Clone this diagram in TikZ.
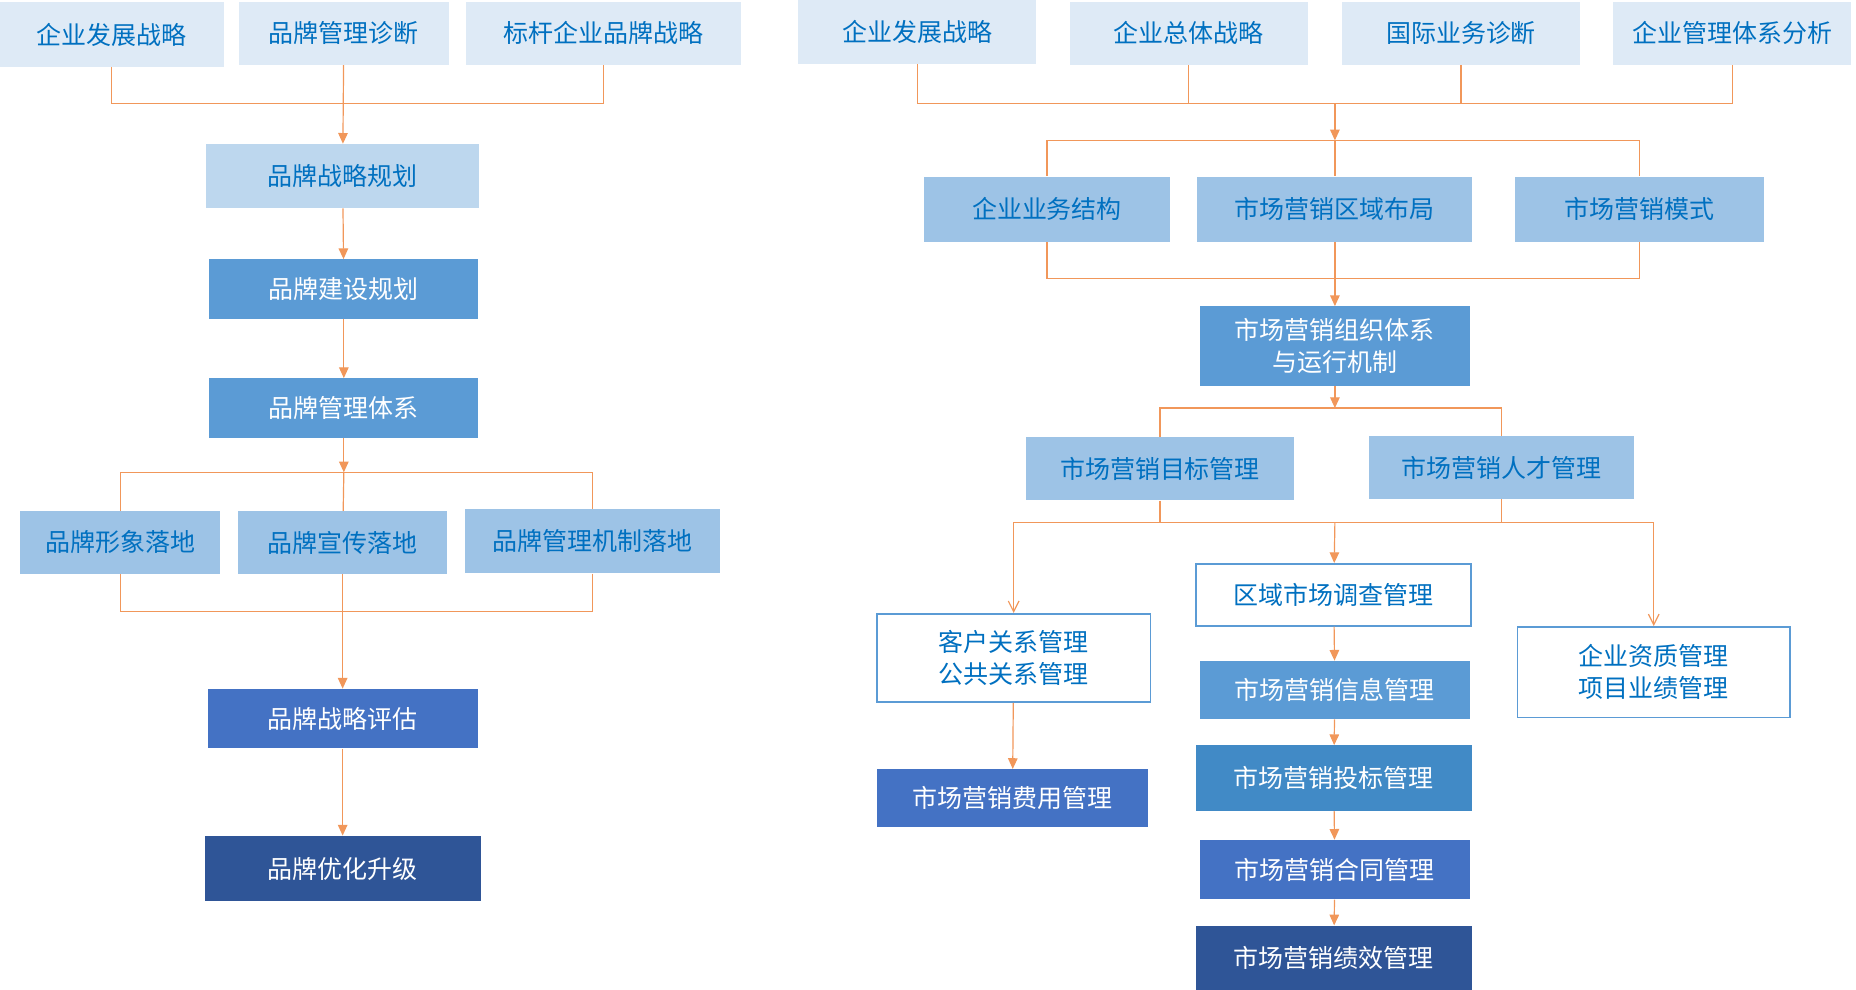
\documentclass[tikz,border=0pt]{standalone}
\usepackage{fontspec}
\setmainfont{Noto Sans CJK SC}
\usetikzlibrary{arrows.meta}
\definecolor{pale}{HTML}{DEEAF6}
\definecolor{lite}{HTML}{BDD7EE}
\definecolor{mid}{HTML}{9DC3E6}
\definecolor{main}{HTML}{5B9BD5}
\definecolor{bid}{HTML}{418AC6}
\definecolor{deep}{HTML}{4472C4}
\definecolor{navy}{HTML}{2F5597}
\definecolor{ink}{HTML}{0070C0}
\definecolor{org}{HTML}{ED7D31}
\tikzset{
    BX/.style ={rectangle, inner sep=0pt, font=\fontsize{21}{27}\selectfont, align=center},
    BX1/.style ={BX, fill=pale, text=ink},
    BX2/.style ={BX, fill=lite, text=ink},
    BX3/.style ={BX, fill=mid, text=ink},
    BX4/.style ={BX, fill=#1, text=white},
    BX5/.style ={BX, fill=white, draw=main, line width=1.5pt, text=ink},
    LN/.style ={draw=org!80, line width=1pt},
    AR/.style ={LN, -{Triangle[length=9pt,width=8pt]}},
    AO/.style ={LN, -{Straight Barb[length=9pt,width=9pt]}}}
\begin{document}
\begin{tikzpicture}[x=1pt,y=-1pt]
        \useasboundingbox (0,0) rectangle (1560,832);
        % left
        \node[BX1,minimum width=189,minimum height=54] (a1) at(94,29){企业发展战略};
        \node[BX1,minimum width=177,minimum height=53] (a2) at(289,28){品牌管理诊断};
        \node[BX1,minimum width=231,minimum height=53] (a3) at(507,28){标杆企业品牌战略};
        \node[BX2,minimum width=230,minimum height=54] (b) at(288,148){品牌战略规划};
        \node[BX4=main,minimum width=226,minimum height=50] (c) at(289,243){品牌建设规划};
        \node[BX4=main,minimum width=226,minimum height=50] (d) at(289,343){品牌管理体系};
        \node[BX3,minimum width=168,minimum height=53] (e1) at(101,456){品牌形象落地};
        \node[BX3,minimum width=176,minimum height=53] (e2) at(288,456){品牌宣传落地};
        \node[BX3,minimum width=215,minimum height=54] (e3) at(498,455){品牌管理机制落地};
        \node[BX4=deep,minimum width=227,minimum height=50] (f) at(288,604){品牌战略评估};
        \node[BX4=navy,minimum width=232,minimum height=55] (g) at(288,730){品牌优化升级};
        \coordinate (j1) at(289,87);
        \coordinate (j2) at(289,397);
        \coordinate (j3) at(289,514);
        \draw[LN] (a1) |- (j1);
        \draw[LN] (a3) |- (j1);
        \draw[AR] (a2) -- (b);
        \draw[AR] (b) -- (c);
        \draw[AR] (c) -- (d);
        \draw[AR] (d) -- (j2);
        \draw[LN] (j2) -| (e1);
        \draw[LN] (j2) -| (e3);
        \draw[LN] (j2) -- (e2);
        \draw[LN] (e1) |- (j3);
        \draw[LN] (e3) |- (j3);
        \draw[AR] (e2) -- (f);
        \draw[AR] (f) -- (g);
        % right
        \node[BX1,minimum width=200,minimum height=54] (r1) at(771,27){企业发展战略};
        \node[BX1,minimum width=200,minimum height=53] (r2) at(999,28){企业总体战略};
        \node[BX1,minimum width=200,minimum height=53] (r3) at(1228,28){国际业务诊断};
        \node[BX1,minimum width=200,minimum height=53] (r4) at(1456,28){企业管理体系分析};
        \node[BX3,minimum width=207,minimum height=55] (s1) at(880,176){企业业务结构};
        \node[BX3,minimum width=231,minimum height=55] (s2) at(1122,176){市场营销区域布局};
        \node[BX3,minimum width=209,minimum height=55] (s3) at(1378,176){市场营销模式};
        \node[BX4=main,minimum width=227,minimum height=67] (t) at(1122,291){市场营销组织体系\\与运行机制};
        \node[BX3,minimum width=225,minimum height=53] (u1) at(975,394){市场营销目标管理};
        \node[BX3,minimum width=223,minimum height=53] (u2) at(1262,393){市场营销人才管理};
        \node[BX5,minimum width=230,minimum height=74] (v1) at(852,553){客户关系管理\\公共关系管理};
        \node[BX5,minimum width=231,minimum height=52] (v2) at(1121,500){区域市场调查管理};
        \node[BX5,minimum width=229,minimum height=76] (v3) at(1390,565){企业资质管理\\项目业绩管理};
        \node[BX4=deep,minimum width=227,minimum height=49] (w1) at(851,671){市场营销费用管理};
        \node[BX4=main,minimum width=227,minimum height=49] (w2) at(1122,580){市场营销信息管理};
        \node[BX4=bid,minimum width=232,minimum height=55] (w3) at(1121,654){市场营销投标管理};
        \node[BX4=deep,minimum width=227,minimum height=50] (w4) at(1122,731){市场营销合同管理};
        \node[BX4=navy,minimum width=232,minimum height=54] (w5) at(1121,805){市场营销绩效管理};
        \coordinate (k1) at(1122,87);
        \coordinate (k2) at(1122,118);
        \coordinate (k3) at(1122,234);
        \coordinate (k4) at(1122,343);
        \coordinate (k5) at(1122,439);
        \draw[LN] (r1) |- (k1);
        \draw[LN] (r4) |- (k1);
        \draw[LN] (r2) -- (r2 |- k1);
        \draw[LN] (r3) -- (r3 |- k1);
        \draw[AR] (k1) -- (k2);
        \draw[LN] (k2) -| (s1);
        \draw[LN] (k2) -| (s3);
        \draw[LN] (k2) -- (s2);
        \draw[LN] (s1) |- (k3);
        \draw[LN] (s3) |- (k3);
        \draw[AR] (s2) -- (t);
        \draw[AR] (t) -- (k4);
        \draw[LN] (k4) -| (u1);
        \draw[LN] (k4) -| (u2);
        \draw[LN] (u1) -- (u1 |- k5);
        \draw[LN] (u2) -- (u2 |- k5);
        \draw[AO] (k5) -| (v1);
        \draw[AO] (k5) -| (v3);
        \draw[AR] (k5) -- (v2);
        \draw[AR] (v1) -- (w1);
        \draw[AR] (v2) -- (w2);
        \draw[AR] (w2) -- (w3);
        \draw[AR] (w3) -- (w4);
        \draw[AR] (w4) -- (w5);
    \end{tikzpicture}
\end{document}
